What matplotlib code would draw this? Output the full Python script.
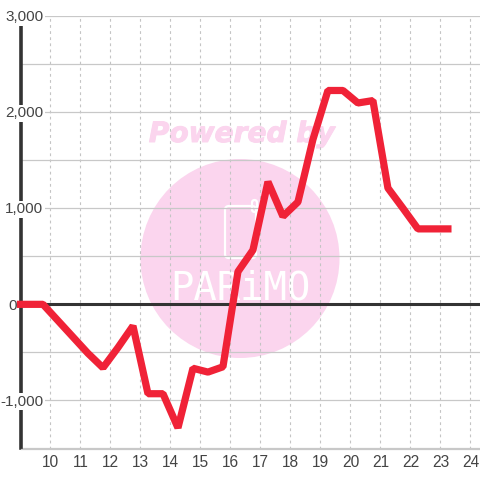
import matplotlib
matplotlib.use("Agg")
import matplotlib.pyplot as plt
from matplotlib.patches import Circle, FancyBboxPatch
import matplotlib.patheffects as pe

hours = [9, 9.75, 10.25, 10.75, 11.25, 11.75, 12.25, 12.75, 13.25, 13.75, 14.25, 14.75,
         15.25, 15.75, 16.25, 16.75, 17.25, 17.75, 18.25, 18.75, 19.25, 19.75, 20.25,
         20.75, 21.25, 21.75, 22.25, 22.75, 23.25]
values = [0, 0, -170, -340, -510, -660, -450, -225, -930, -930, -1285, -665,
          -705, -650, 340, 565, 1275, 915, 1065, 1715, 2225, 2225, 2095,
          2120, 1210, 1000, 785, 785, 785]
xticks = list(range(10, 25))
yticks = [-1000, 0, 1000, 2000, 3000]
yminor = [-1500, -500, 500, 1500, 2500]

plt.rcParams['font.family'] = ['Liberation Sans', 'DejaVu Sans']

fig = plt.figure(figsize=(4.8, 4.8), dpi=100)
ax = fig.add_axes([20.5 / 480, 1 - 448.5 / 480, 459.5 / 480, 432.5 / 480])
ax.set_xlim(9, 24.32)
ax.set_ylim(-1500, 3000)

# grid
ax.set_xticks(xticks)
ax.set_yticks(yticks)
ax.set_yticks(yminor, minor=True)
ax.grid(axis='x', color='#c4c4c4', lw=0.8, ls=(0, (2.5, 3)), zorder=2)
ax.grid(axis='y', which='both', color='#c8c8c8', lw=0.9, zorder=2)
ax.tick_params(which='both', length=0)
ax.set_xticklabels([str(t) for t in xticks], fontsize=11.2, color='#444444')
ax.tick_params(axis='x', pad=5)
ax.set_yticklabels([])

for s in ['top', 'right']:
    ax.spines[s].set_visible(False)
ax.spines['bottom'].set_color('#c8c8c8')
ax.spines['bottom'].set_linewidth(0.9)
ax.spines['left'].set_color('#333333')
ax.spines['left'].set_linewidth(2.6)
ax.axhline(0, color='#333333', lw=2.2, zorder=3)

# watermark, pixel placed
wm = fig.add_axes([0, 0, 1, 1], zorder=-1)
wm.set_xlim(0, 480)
wm.set_ylim(480, 0)
wm.axis('off')
wm.add_patch(Circle((240, 258.5), 99.5, color='#fbd5ee', lw=0))
wm.add_patch(FancyBboxPatch((225, 206), 31, 52, boxstyle='round,pad=0,rounding_size=4',
                            fc='none', ec='white', lw=1.6))
wm.add_patch(FancyBboxPatch((252, 200), 5, 12, boxstyle='round,pad=0,rounding_size=2.5',
                            fc='none', ec='white', lw=1.6))
wm.text(241.5, 134, 'Powered by', fontsize=20.2, fontweight='bold', style='italic',
        family='DejaVu Sans', color='#fbd5ee', ha='center', va='center',
        path_effects=[pe.withStroke(linewidth=0.7, foreground='#fbd5ee')])
wm.text(240, 289, 'PARiMO', fontsize=28, color='white', ha='center', va='center',
        family='DejaVu Sans Mono')
ax.patch.set_alpha(0)

ax.plot(hours, values, color='#f02237', lw=5.2, solid_joinstyle='bevel',
        solid_capstyle='projecting', zorder=5, clip_on=False)

# y labels sit over the axis line
for v in yticks:
    x = 16.5 if v == 0 else 43.5
    y = 304.5 - v * 0.0961 + 1
    t = fig.text(x / 480, 1 - y / 480, f'{v:,}', fontsize=11, color='#444444',
                 ha='right', va='center', zorder=6)
    if v != 0:
        t.set_bbox(dict(fc='white', ec='none', pad=1.0))

fig.savefig('out.png', dpi=100)
